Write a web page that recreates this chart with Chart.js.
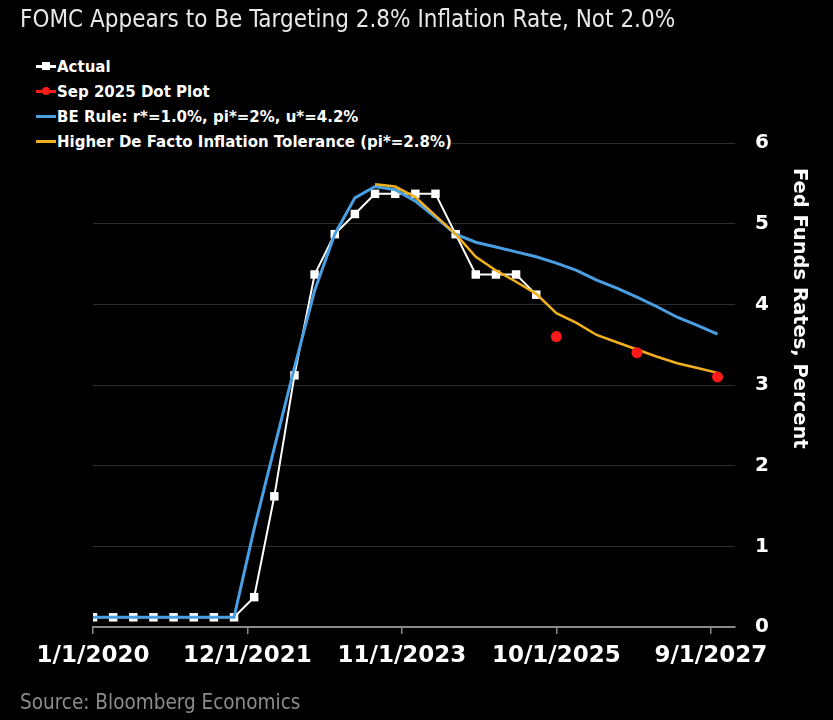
<!DOCTYPE html>
<html lang="en">
<head>
<meta charset="UTF-8">
<title>FOMC Appears to Be Targeting 2.8% Inflation Rate</title>
<script src="https://cdn.jsdelivr.net/npm/chart.js"></script>
<style>
    body {
        margin: 0;
        background: #000;
    }

    .wrap {
        position: relative;
        width: 833px;
        height: 720px;
        background: #000;
    }

    .title {
        position: absolute;
        left: 20px;
        top: 5px;
        color: #e8e8e8;
        font-family: 'Liberation Sans Narrow', 'DejaVu Sans Condensed', sans-serif;
        font-size: 24px;
    }

    .legend {
        position: absolute;
        left: 36px;
        top: 54px;
        font-family: 'DejaVu Sans', sans-serif;
        font-weight: bold;
        font-size: 15px;
        color: #fff;
    }

    .legend div {
        height: 25px;
        display: flex;
        align-items: center;
        position: relative;
        padding-left: 21px;
        background: #000;
    }

    .legend .line {
        position: absolute;
        left: 0;
        top: 11px;
        width: 20px;
        height: 3px;
    }

    .legend .mark {
        position: absolute;
        left: 6px;
        top: 8px;
        width: 8px;
        height: 8px;
    }

    .source {
        position: absolute;
        left: 20px;
        top: 690px;
        color: #8c8c8c;
        font-family: 'Liberation Sans Narrow', 'DejaVu Sans Condensed', sans-serif;
        font-size: 20.5px;
    }
</style>
</head>
<body>

<div class="wrap">
    <canvas id="chart" width="833" height="720"></canvas>
    <div class="title">FOMC Appears to Be Targeting 2.8% Inflation Rate, Not 2.0%</div>
    <div class="legend">
        <div><span class="line" style="background:#fff"></span><span class="mark" style="background:#fff"></span>Actual</div>
        <div><span class="line" style="background:#ff1a1a"></span><span class="mark" style="background:#ff1a1a;border-radius:50%"></span>Sep 2025 Dot Plot</div>
        <div><span class="line" style="background:#4a9fe3"></span>BE Rule: r*=1.0%, pi*=2%, u*=4.2%</div>
        <div><span class="line" style="background:#f2b01e"></span>Higher De Facto Inflation Tolerance (pi*=2.8%)</div>
    </div>
    <div class="source">Source: Bloomberg Economics</div>
</div>

<script>
    // quarterly dates of the model paths
    const dates = [
        '1/1/2020', '4/1/2020', '7/1/2020', '10/1/2020',
        '1/1/2021', '4/1/2021', '7/1/2021', '10/1/2021',
        '1/1/2022', '4/1/2022', '7/1/2022', '10/1/2022',
        '1/1/2023', '4/1/2023', '7/1/2023', '10/1/2023',
        '1/1/2024', '4/1/2024', '7/1/2024', '10/1/2024',
        '1/1/2025', '4/1/2025', '7/1/2025', '10/1/2025',
        '1/1/2026', '4/1/2026', '7/1/2026', '10/1/2026',
        '1/1/2027', '4/1/2027', '7/1/2027', '10/1/2027'
    ];

    const actual = [0.12, 0.12, 0.12, 0.12, 0.12, 0.12, 0.12, 0.12,
        0.37, 1.62, 3.12, 4.37, 4.87, 5.12, 5.37, 5.37, 5.37, 5.37,
        4.87, 4.37, 4.37, 4.37, 4.12];

    const beRule = [0.12, 0.12, 0.12, 0.12, 0.12, 0.12, 0.12, 0.12,
        1.22, 2.22, 3.22, 4.17, 4.87, 5.32, 5.46, 5.42, 5.28, 5.08,
        4.87, 4.77, 4.71, 4.65, 4.59, 4.51, 4.42, 4.30, 4.20, 4.09,
        3.97, 3.84, 3.74, 3.63];

    const tolerance = [null, null, null, null, null, null, null, null,
        null, null, null, null, null, null,
        5.49, 5.46, 5.33, 5.10, 4.87, 4.59, 4.42, 4.28, 4.13, 3.89,
        3.77, 3.62, 3.53, 3.44, 3.35, 3.27, 3.21, 3.15];

    const dotDates = ['10/1/2025', '10/1/2026', '10/1/2027'];
    const dotPlot = [3.6, 3.4, 3.1];

    const tickLabels = ['1/1/2020', '12/1/2021', '11/1/2023', '10/1/2025', '9/1/2027'];

    // months since Jan 2020
    function monthOf(d) {
        const p = d.split('/');
        return (+p[2] - 2020) * 12 + (+p[0] - 1);
    }

    function toPoints(ds, vals) {
        return vals.map((v, i) => ({ x: monthOf(ds[i]), y: v }));
    }

    const tickMonths = tickLabels.map(monthOf);

    // draws the rotated axis title on the right
    const axisTitle = {
        id: 'axisTitle',
        afterDraw(chart) {
            const c = chart.ctx;
            c.save();
            c.translate(799, 168);
            c.rotate(Math.PI / 2);
            c.fillStyle = '#fff';
            c.font = 'bold 19.5px "DejaVu Sans"';
            c.textBaseline = 'middle';
            c.fillText('Fed Funds Rates, Percent', 0, 0);
            c.restore();
        }
    };

    const ctx = document.getElementById('chart').getContext('2d');
    const chart = new Chart(ctx, {
        type: 'line',
        data: {
            datasets: [{
                label: 'Sep 2025 Dot Plot',
                data: toPoints(dotDates, dotPlot),
                showLine: false,
                pointRadius: 5.5,
                pointBackgroundColor: '#ff1a1a',
                pointBorderWidth: 0
            }, {
                label: 'Higher De Facto Inflation Tolerance (pi*=2.8%)',
                data: toPoints(dates, tolerance),
                borderColor: '#f2b01e',
                borderWidth: 2.5,
                pointRadius: 0
            }, {
                label: 'BE Rule: r*=1.0%, pi*=2%, u*=4.2%',
                data: toPoints(dates, beRule),
                borderColor: '#4a9fe3',
                borderWidth: 3,
                pointRadius: 0
            }, {
                label: 'Actual',
                data: toPoints(dates, actual),
                borderColor: '#fff',
                borderWidth: 2,
                pointStyle: 'rect',
                pointRadius: 6,
                pointBackgroundColor: '#fff',
                pointBorderWidth: 0
            }]
        },
        options: {
            responsive: false,
            animation: false,
            layout: {
                padding: { left: 93, top: 143, right: 0, bottom: 0 }
            },
            plugins: {
                legend: { display: false },
                tooltip: { enabled: false }
            },
            scales: {
                x: {
                    type: 'linear',
                    min: 0,
                    max: 95.6,
                    afterBuildTicks: (scale) => {
                        scale.ticks = tickMonths.map(v => ({ value: v }));
                    },
                    afterFit: (scale) => { scale.height = 93; },
                    ticks: {
                        color: '#fff',
                        font: { family: 'DejaVu Sans', weight: 'bold', size: 23 },
                        padding: 8,
                        maxRotation: 0,
                        autoSkip: false,
                        callback: (v) => tickLabels[tickMonths.indexOf(v)]
                    },
                    grid: {
                        drawOnChartArea: false,
                        color: '#8a8a8a',
                        tickLength: 7,
                        lineWidth: 1.5
                    },
                    border: { color: '#8a8a8a', width: 2 }
                },
                y: {
                    position: 'right',
                    min: 0,
                    max: 6,
                    afterFit: (scale) => { scale.width = 98; },
                    ticks: {
                        stepSize: 1,
                        color: '#fff',
                        font: { family: 'DejaVu Sans', weight: 'bold', size: 20 },
                        padding: 20
                    },
                    grid: {
                        color: '#2e2e2e',
                        drawTicks: false
                    },
                    border: { display: false }
                }
            }
        },
        plugins: [axisTitle]
    });
</script>
</body>
</html>
